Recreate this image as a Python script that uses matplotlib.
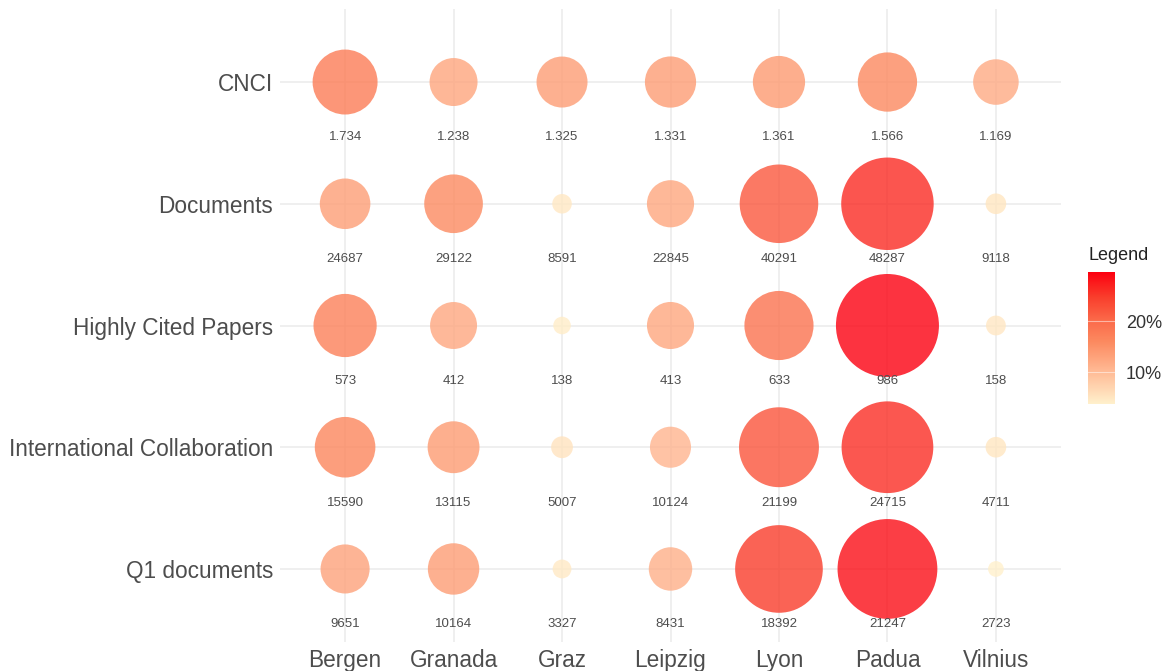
import numpy as np
import matplotlib
matplotlib.use("Agg")
import matplotlib.pyplot as plt
from matplotlib.colors import LinearSegmentedColormap, Normalize

plt.rcParams['font.family'] = ['Liberation Sans', 'DejaVu Sans']

cities = ["Bergen", "Granada", "Graz", "Leipzig", "Lyon", "Padua", "Vilnius"]
metrics = ["CNCI", "Documents", "Highly Cited Papers",
           "International Collaboration", "Q1 documents"]
cnci = [1.734, 1.238, 1.325, 1.331, 1.361, 1.566, 1.169]
documents = [24687, 29122, 8591, 22845, 40291, 48287, 9118]
highly_cited = [573, 412, 138, 413, 633, 986, 158]
intl_collab = [15590, 13115, 5007, 10124, 21199, 24715, 4711]
q1_docs = [9651, 10164, 3327, 8431, 18392, 21247, 2723]
rows = [cnci, documents, highly_cited, intl_collab, q1_docs]
row_labels = [["%.3f" % v for v in cnci]] + [[str(v) for v in r] for r in rows[1:]]

# light cream -> red, stops
stops = [(0.0, "#fff0cc"), (0.24, "#ffbb96"), (0.47, "#fc8a60"),
         (0.63, "#fb6a4a"), (0.81, "#f93e2c"), (1.0, "#fc0010")]
cmap = LinearSegmentedColormap.from_list("cream_red", stops)

# share of each city within its row (percent)
pct = np.array([np.array(r, float) / np.sum(r) * 100 for r in rows])
norm = Normalize(pct.min(), pct.max())

fig = plt.figure(figsize=(11.7, 6.71), dpi=100)
ax = fig.add_axes([280 / 1170, 1 - 642 / 671, (1061 - 280) / 1170, (642 - 9) / 671])

xs = np.arange(1, len(cities) + 1)
for i, m in enumerate(metrics):
    y = len(metrics) - i
    d_px = 103 * (pct[i] / pct.max()) ** 0.9
    d_pt = d_px * 0.72
    ax.scatter(xs, [y] * len(xs), s=d_pt ** 2, c=pct[i], cmap=cmap, norm=norm,
               alpha=0.8, linewidths=0, zorder=3)
    for x, lab in zip(xs, row_labels[i]):
        ax.text(x, y - 0.455, lab, ha="center", va="center", fontsize=9.5,
                color="#4d4d4d", zorder=4)

ax.set_xlim(0.4, len(cities) + 0.6)
ax.set_ylim(0.4, len(metrics) + 0.6)
ax.set_xticks(xs)
ax.set_xticklabels(cities, fontsize=16.3, color="#4d4d4d")
ax.set_yticks(np.arange(len(metrics), 0, -1))
ax.set_yticklabels(metrics, fontsize=16.3, color="#4d4d4d")
ax.tick_params(length=0, pad=5)
ax.grid(True, color="#ebebeb", linewidth=1.1, zorder=0)
ax.set_axisbelow(True)
for s in ax.spines.values():
    s.set_visible(False)

# colourbar
cax = fig.add_axes([1088 / 1170, 1 - 404 / 671, 27 / 1170, (404 - 272) / 671])
sm = plt.cm.ScalarMappable(norm=norm, cmap=cmap)
cb = fig.colorbar(sm, cax=cax)
cb.outline.set_visible(False)
cb.set_ticks([10, 20])
cb.set_ticklabels(["10%", "20%"])
cb.ax.tick_params(length=0, labelsize=13, colors="#333333", pad=8)
for t in [10, 20]:
    cax.axhline(t, color="white", linewidth=0.8, alpha=0.5)
fig.text(1088 / 1170, 1 - 256 / 671, "Legend", fontsize=13, va="center", color="#222222")

fig.savefig("out.png", dpi=100)
